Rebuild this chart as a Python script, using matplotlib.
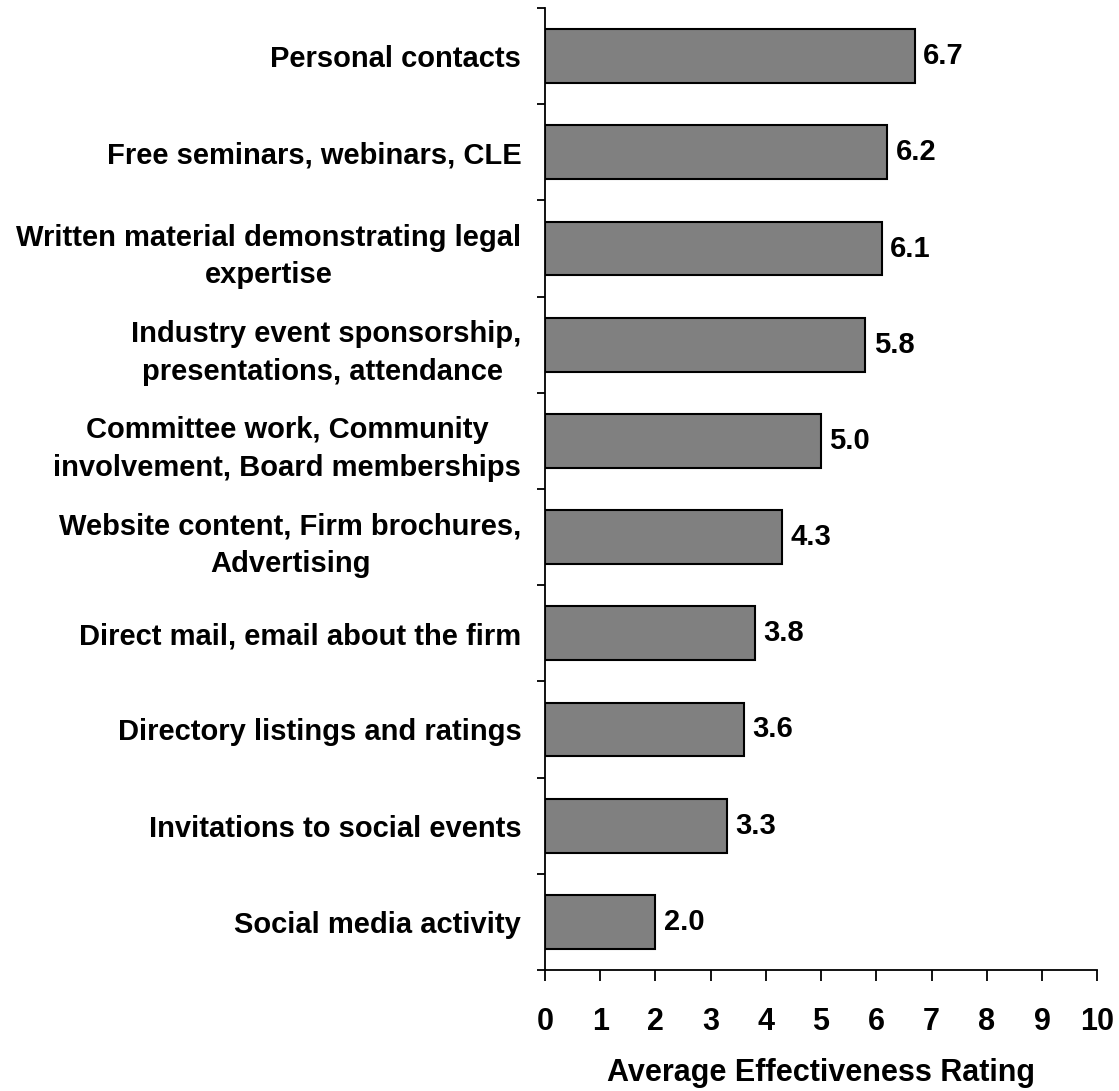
import matplotlib
matplotlib.use("Agg")
import matplotlib.pyplot as plt
import numpy as np

# ---------------- DATA ----------------
categories = [
    "Personal contacts",
    "Free seminars, webinars, CLE",
    "Written material demonstrating legal\nexpertise",
    "Industry event sponsorship,\npresentations, attendance ",
    "Committee work, Community\ninvolvement, Board memberships",
    "Website content, Firm brochures,\nAdvertising",
    "Direct mail, email about the firm",
    "Directory listings and ratings",
    "Invitations to social events",
    "Social media activity",
]
ratings = [6.7, 6.2, 6.1, 5.8, 5.0, 4.3, 3.8, 3.6, 3.3, 2.0]
x_ticks = list(range(0, 11))
x_label = "Average Effectiveness Rating"

# ---------------- STYLE ----------------
plt.rcParams['font.family'] = ['Liberation Sans', 'DejaVu Sans']
plt.rcParams['font.weight'] = 'bold'
FONT_SIZE = 21
BAR_COLOR = "#808080"

fig = plt.figure(figsize=(11.19, 10.91), dpi=100)
ax = fig.add_axes([0.487, 0.111, 0.4935, 0.8816])

y = np.arange(len(categories))
rects = ax.barh(y, ratings, height=0.56, color=BAR_COLOR,
                edgecolor="black", linewidth=1.5)

ax.set_xlim(0, 10)
ax.set_ylim(len(categories) - 0.5, -0.5)

# value labels at the end of each bar
for rect, val in zip(rects, ratings):
    ax.annotate(f"{val:.1f}", xy=(rect.get_width(), rect.get_y() + rect.get_height() / 2),
                xytext=(6, 0), textcoords="offset points", ha='left', va='center',
                fontsize=FONT_SIZE, fontweight='bold')

# category labels centred on bars, tick marks on the slot boundaries
ax.set_yticks(y)
ax.set_yticklabels(categories, fontsize=FONT_SIZE, fontweight='bold',
                   multialignment='center', linespacing=1.45)
ax.tick_params(axis='y', which='major', length=0, pad=17)
ax.set_yticks(np.arange(-0.5, len(categories), 1.0), minor=True)
ax.tick_params(axis='y', which='minor', length=6, width=1.3, direction='out')

ax.set_xticks(x_ticks)
ax.set_xticklabels([str(t) for t in x_ticks], fontsize=22, fontweight='bold')
ax.tick_params(axis='x', length=8, width=1.3, direction='out', pad=19)
ax.set_xlabel(x_label, fontsize=22, fontweight='bold', labelpad=15)

for side in ('top', 'right'):
    ax.spines[side].set_visible(False)
for side in ('left', 'bottom'):
    ax.spines[side].set_linewidth(1.3)

fig.savefig("out.png", dpi=100)
